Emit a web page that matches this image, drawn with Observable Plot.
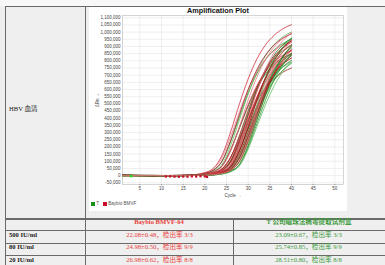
<!DOCTYPE html>
<html><head><meta charset="utf-8">
<script src="https://cdn.jsdelivr.net/npm/d3@7"></script>
<script src="https://cdn.jsdelivr.net/npm/@observablehq/plot@0.6"></script>
<style>
body{margin:0;background:#efefef;}
#page{position:relative;width:385px;height:265px;overflow:hidden;background:#efefef;}
.ln{position:absolute;background:#6a6a6a;}
.tx{position:absolute;white-space:nowrap;font-family:"Liberation Serif","Times New Roman","Noto Sans CJK SC",serif;font-size:6.6px;line-height:8px;}
</style></head>
<body><div id="page"></div>
<script>
// ---- data ----
const cycles = [1, 8, 14, 18, 20, 22, 24, 26, 28, 30, 32, 34, 36, 38, 40];
// ΔRn in thousands, one row per well, at the cycles above
const bmvfCurves = [
 [2,0,1, 8,21,52,143,309,501,674,812,911,978,1023,1052],
 [3,1,0, 8,19,47,127,275,446,601,723,811,871,911,937],
 [-1,0,1, 6,16,39,104,249,427,599,738,840,911,958,988],
 [1,-1,0, 5,11,28,69,184,339,494,626,724,793,839,868],
 [4,1,1, 4,10,26,63,173,343,527,686,809,896,955,993],
 [0,0,-1, 3,8,19,48,130,259,398,518,610,676,721,750],
 [2,1,0, 3,8,19,48,130,281,455,613,738,828,889,930],
 [-2,0,1, 3,7,17,42,114,247,400,539,649,729,782,818],
 [1,0,0, 3,6,16,39,102,244,419,588,724,824,894,939],
 [3,0,1, 2,6,15,36,95,227,390,547,675,768,832,875],
 [0,1,0, 2,5,13,33,82,218,401,585,741,858,940,994],
 [2,-1,1, 2,4,11,27,68,180,331,483,612,708,776,821],
 [1,0,0, 2,5,12,30,75,200,368,537,680,787,862,912],
 [-1,1,0, 2,5,12,29,72,192,353,516,653,756,828,876],
 [2,0,1, 2,4,10,25,63,171,340,522,679,801,887,946],
 [0,0,0, 1,4,9,22,56,152,301,462,602,710,786,838],
 [3,1,1, 1,3,8,19,48,131,284,460,619,745,836,898],
 [1,0,-1, 1,3,7,18,46,125,270,437,588,708,795,853],
 [2,0,0, 1,3,6,15,38,100,239,411,576,710,808,876],
 [0,1,0, 1,3,7,16,41,107,256,440,616,760,865,937]
];
const tCurves = [
 [1,0,1, 6,15,38,100,239,411,576,710,808,876,921,950],
 [3,1,0, 5,13,32,80,212,390,569,721,834,914,967,1001],
 [0,0,1, 4,11,27,68,180,331,483,612,708,776,821,850],
 [2,-1,0, 3,8,19,47,127,275,446,601,723,811,871,911],
 [-1,0,0, 3,7,16,40,111,239,387,521,627,704,756,791],
 [2,1,1, 3,6,16,39,104,249,427,599,738,840,911,958],
 [1,0,0, 2,6,14,35,92,220,378,530,653,743,806,847],
 [0,1,0, 2,5,12,30,75,200,368,537,680,787,862,912],
 [3,0,1, 2,4,11,27,66,176,324,473,598,693,759,803],
 [1,0,-1, 2,4,10,26,63,173,343,527,686,809,896,955],
 [-2,0,0, 2,4,9,23,57,155,308,472,615,725,803,856],
 [2,1,0, 1,3,8,19,48,130,281,455,613,738,828,889],
 [0,0,1, 1,3,8,21,52,142,282,432,563,664,735,784],
 [1,0,0, 1,3,8,21,51,140,303,491,662,797,894,960],
 [2,-1,1, 1,3,7,18,45,122,264,428,576,694,778,836],
 [-1,0,0, 1,3,6,16,39,103,246,423,593,731,832,902],
 [1,1,0, 1,2,6,15,36,96,229,395,553,682,776,841],
 [3,0,1, 1,2,5,13,32,79,210,386,564,714,826,905],
 [0,0,0, 1,2,5,12,30,74,196,361,526,666,771,845],
 [2,1,0, 1,2,5,11,28,69,184,339,494,626,724,793]
];
// baseline markers (cycle, ΔRn thousands)
const bmvfMarkCycles = [11, 12, 13, 14, 15, 16, 17, 18, 19, 20, 20.5];
const bmvfMarkValues = [-6, -5, -7, -8, -6, -7, -5, -6, -4, -5, -9];
const tMarkCycles = [3];
const tMarkValues = [-4];

const xTicks = [5, 10, 15, 20, 25, 30, 35, 40, 45, 50];
const yTicks = [-50000, 0, 50000, 100000, 150000, 200000, 250000, 300000, 350000, 400000, 450000, 500000, 550000, 600000, 650000, 700000, 750000, 800000, 850000, 900000, 950000, 1000000, 1050000, 1100000];

const plotTitle = "Amplification Plot";
const xLabel = "Cycle";
const yLabel = "ΔRn";
const legendLabels = ["T", "Baybio BMVF"];
const sampleLabel = "HBV 血清";
const kitNames = ["Baybio BMVF-64", "T 公司磁珠法病毒提取试剂盒"];
const rowLabels = ["500 IU/ml", "80 IU/ml", "20 IU/ml"];
const bmvfResults = ["22.08±0.48，检出率 3/3", "24.98±0.50，检出率 9/9", "26.98±0.62，检出率 8/8"];
const tResults = ["23.09±0.67，检出率 3/3", "25.74±0.85，检出率 9/9", "28.51±0.80，检出率 8/8"];

// ---- build ----
const RED = "#c8102e", GREEN = "#1a8f1a";
const shadeNames = ["r0","r1","r2","g0","g1","g2"];
const shadeColors = ["#cc1a2c","#e4707e","#a20d1c","#1f921f","#58b858","#0c6a0c"];

const rows = [];
for (let i = 0; i < 20; i++) {
  [["t", tCurves[i], "g"], ["b", bmvfCurves[i], "r"]].forEach(([k, vals, p]) => {
    vals.forEach((v, j) => rows.push({id: k + i, shade: p + (i % 3), cycle: cycles[j], drn: v * 1000}));
  });
}
const marks = [
  ...bmvfMarkCycles.map((c, i) => ({cycle: c, drn: bmvfMarkValues[i] * 1000, s: "b"})),
  ...tMarkCycles.map((c, i) => ({cycle: c, drn: tMarkValues[i] * 1000, s: "t"}))
];

const page = document.getElementById("page");
function el(tag, style, text) {
  const e = document.createElement(tag);
  Object.assign(e.style, style);
  if (text != null) e.textContent = text;
  page.appendChild(e);
  return e;
}
function line(l, t, w, h) { const e = el("div", {left: l + "px", top: t + "px", width: w + "px", height: h + "px"}); e.className = "ln"; }
function text(s, cx, cy, color, bold, align) {
  const e = el("div", {top: (cy - 4) + "px", color: color, fontWeight: bold ? "bold" : "normal"}, s);
  e.className = "tx";
  if (align === "left") e.style.left = cx + "px";
  else { e.style.left = cx + "px"; e.style.transform = "translateX(-50%)"; }
}

el("div", {position: "absolute", left: "0px", top: "0px", width: "385px", height: "6px", background: "#f8f8f8"});

// white plot box
const box = el("div", {position: "absolute", left: "89px", top: "7px", width: "258px", height: "204px", background: "#ffffff"});

// grid lines of the table
line(5, 6, 380, 1);
line(5, 6, 1, 259);
line(85, 6, 1, 259);
line(5, 218, 380, 2);
line(5, 230, 380, 1);
line(5, 242.5, 380, 1);
line(5, 255, 380, 1);
line(233, 219, 1, 46);

text(sampleLabel, 9, 108.5, "#222", false, "left");
text(kitNames[0], 159, 222.3, "#e8413c", true);
text(kitNames[1], 309, 222.3, "#3d9a3d", true);
const rowY = [234.6, 247.2, 259.8];
rowLabels.forEach((s, i) => {
  text(s, 9, rowY[i], "#222", true, "left");
  text(bmvfResults[i], 159.5, rowY[i], "#e8413c", false);
  text(tResults[i], 308.5, rowY[i], "#3d9a3d", false);
});

// title
const ttl = document.createElement("div");
Object.assign(ttl.style, {position: "absolute", left: "0px", width: "258px", top: "-0.5px", textAlign: "center", font: "bold 7.3px 'Liberation Sans', Arial, sans-serif", lineHeight: "8px", color: "#111"});
ttl.textContent = plotTitle;
box.appendChild(ttl);

const fmt = d3.format(",");
const chart = Plot.plot({
  width: 258, height: 190,
  marginLeft: 33, marginRight: 4, marginTop: 2, marginBottom: 19,
  style: {fontSize: "4.5px", fontFamily: "'Liberation Sans', Arial, sans-serif", color: "#444", background: "transparent", overflow: "visible"},
  x: {domain: [1, 52]},
  y: {domain: [-62000, 1116000]},
  color: {domain: shadeNames, range: shadeColors},
  marks: [
    Plot.gridX(xTicks, {stroke: "#e4e4e4", strokeOpacity: 1, strokeWidth: 0.6}),
    Plot.gridY(yTicks, {stroke: "#e4e4e4", strokeOpacity: 1, strokeWidth: 0.6}),
    Plot.frame({stroke: "#c4c4c4", strokeWidth: 0.7}),
    Plot.axisX(xTicks, {tickSize: 1.2, tickPadding: 1, stroke: "#999", label: xLabel, labelAnchor: "center", labelOffset: 12}),
    Plot.axisY(yTicks, {tickSize: 0, tickPadding: 2, tickFormat: d => fmt(d).replace("−", "-"), label: yLabel, labelAnchor: "center", labelOffset: 27}),
    Plot.line(rows, {x: "cycle", y: "drn", z: "id", stroke: "shade", strokeWidth: 1, strokeOpacity: 0.72, curve: "monotone-x"}),
    Plot.dot(marks, {x: "cycle", y: "drn", symbol: "square", r: 1.3, fill: d => d.s === "b" ? RED : "#22dd22", stroke: "none"})
  ]
});
chart.style.position = "absolute";
chart.style.left = "0px";
chart.style.top = "6px";
box.appendChild(chart);

// legend
const lg = document.createElement("div");
Object.assign(lg.style, {position: "absolute", left: "1.5px", top: "194px", font: "4.6px 'Liberation Sans', Arial, sans-serif", color: "#555", display: "flex", alignItems: "center", lineHeight: "6px"});
[[GREEN, legendLabels[0]], [RED, legendLabels[1]]].forEach(([c, s], i) => {
  const sw = document.createElement("span");
  Object.assign(sw.style, {display: "inline-block", width: "4.2px", height: "4.2px", background: c, marginRight: "1.5px", marginLeft: i ? "3.5px" : "0px"});
  const tx = document.createElement("span");
  tx.textContent = s;
  lg.appendChild(sw); lg.appendChild(tx);
});
box.appendChild(lg);
</script></body></html>
